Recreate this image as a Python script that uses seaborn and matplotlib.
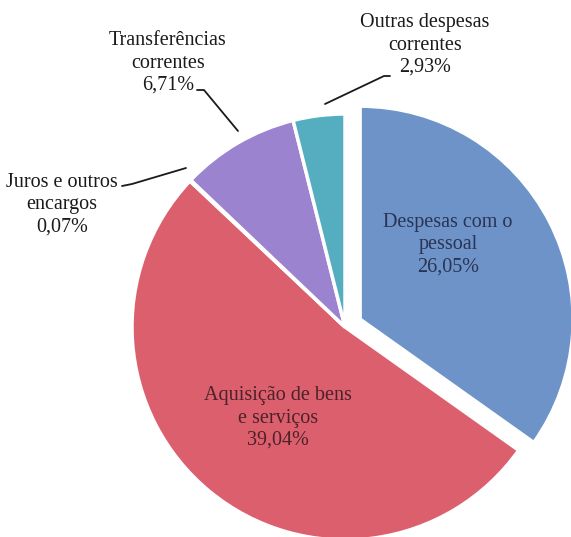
import matplotlib
matplotlib.use("Agg")
import matplotlib.pyplot as plt
import seaborn as sns

# dados (percentagens tal como aparecem no gráfico)
categorias = ["Despesas com o\npessoal", "Aquisição de bens\ne serviços",
              "Juros e outros\nencargos", "Transferências\ncorrentes",
              "Outras despesas\ncorrentes"]
valores = [26.05, 39.04, 0.07, 6.71, 2.93]
rotulos = ["26,05%", "39,04%", "0,07%", "6,71%", "2,93%"]
cores = ["#6E93C8", "#DC5F6E", "#C9D98F", "#9C83CF", "#55AEC0"]
destaque = [0.08, 0, 0, 0, 0]

sns.set_theme(style="white")
plt.rcParams['font.family'] = ['Liberation Serif', 'DejaVu Serif']

fig = plt.figure(figsize=(5.71, 5.37), dpi=100)
# eixo posicionado para que o círculo fique um pouco cortado em baixo/direita
cx, cy, r = 345, 327, 213
ax = fig.add_axes([(cx - r) / 571, (537 - cy - r) / 537, 2 * r / 571, 2 * r / 537])

wedges, _ = ax.pie(valores, colors=cores, startangle=90, counterclock=False,
                   explode=destaque, radius=1,
                   wedgeprops=dict(edgecolor="white", linewidth=2.5, clip_on=False))
ax.set_xlim(-1, 1)
ax.set_ylim(-1, 1)
ax.axis("off")

def px(x, y):
    # pixel da imagem -> fração da figura
    return x / 571, 1 - y / 537

fs = 14.5
ls = 1.24
# rótulos dentro das fatias
fig.text(*px(448, 245), categorias[0] + "\n" + rotulos[0], ha="center", va="center",
         fontsize=fs, color="#2A3352", linespacing=ls)
fig.text(*px(278, 418), categorias[1] + "\n" + rotulos[1], ha="center", va="center",
         fontsize=fs, color="#4A2228", linespacing=ls)

# rótulos de fora com linhas de chamada
fig.text(*px(62, 205), categorias[2] + "\n" + rotulos[2], ha="center", va="center",
         fontsize=fs, color="#1A1A1A", linespacing=ls)
fig.text(*px(168, 63), categorias[3] + "\n" + rotulos[3], ha="center", va="center",
         fontsize=fs, color="#1A1A1A", linespacing=ls)
fig.text(*px(425, 45), categorias[4] + "\n" + rotulos[4], ha="center", va="center",
         fontsize=fs, color="#1A1A1A", linespacing=ls)

linhas = [
    [(122, 186), (132, 184), (186, 168)],
    [(197, 90), (204, 90), (238, 131)],
    [(390, 76), (384, 76), (325, 104)],
]
for pts in linhas:
    xs = [px(*p)[0] for p in pts]
    ys = [px(*p)[1] for p in pts]
    fig.add_artist(plt.Line2D(xs, ys, color="#1A1A1A", linewidth=1.3,
                              transform=fig.transFigure))

plt.savefig("out.png", dpi=100)
plt.close()
